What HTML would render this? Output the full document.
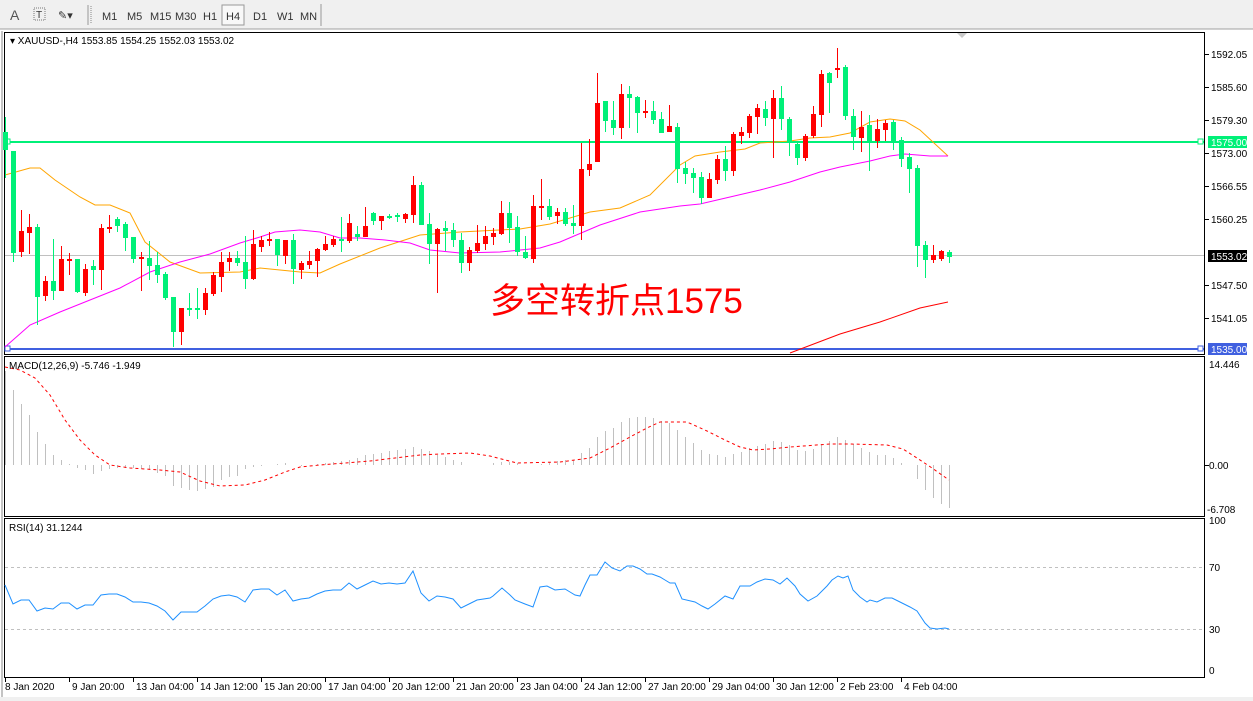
<!DOCTYPE html>
<html><head><meta charset="utf-8"><style>
html,body{margin:0;padding:0;background:#fff;width:1253px;height:701px;overflow:hidden}
svg{display:block;font-family:"Liberation Sans","DejaVu Sans",sans-serif}
</style></head><body>
<svg id="s" width="1253" height="701" xmlns="http://www.w3.org/2000/svg">
<rect x="0" y="0" width="1253" height="701" fill="#fff"/>
<rect x="0" y="0" width="1253" height="29" fill="#f0f0f0"/>
<line x1="0" y1="29" x2="1253" y2="29" stroke="#a0a0a0"/>
<rect x="0" y="697" width="1253" height="4" fill="#f0f0f0"/>
<g font-size="11" fill="#333">
<text x="10" y="20" font-size="14" fill="#555">A</text>
<rect x="34" y="8" width="11" height="12" fill="none" stroke="#777" stroke-dasharray="1,1"/><text x="36" y="18" font-size="10">T</text>
<text x="58" y="19" font-size="11">✎▾</text>
<line x1="88" y1="5" x2="88" y2="25" stroke="#999"/><line x1="91" y1="6" x2="91" y2="24" stroke="#888" stroke-dasharray="1,1"/>
<text x="102" y="20">M1</text><text x="127" y="20">M5</text><text x="150" y="20">M15</text><text x="175" y="20">M30</text><text x="203" y="20">H1</text>
<rect x="222" y="5" width="22" height="20" fill="#f8f8f8" stroke="#999"/><text x="226" y="20">H4</text>
<text x="253" y="20">D1</text><text x="277" y="20">W1</text><text x="300" y="20">MN</text>
<line x1="321" y1="4" x2="321" y2="26" stroke="#999"/>
</g>
<rect x="4.5" y="32.5" width="1200" height="322" fill="none" stroke="#000"/>
<rect x="4.5" y="356.5" width="1200" height="160" fill="none" stroke="#000"/>
<rect x="4.5" y="518.5" width="1200" height="159" fill="none" stroke="#000"/>
<line x1="2" y1="31" x2="2" y2="697" stroke="#888"/>
<polygon points="957,33 967,33 962,38" fill="#c8c8c8"/>
<g id="g"></g>
<text x="490" y="313" font-size="35" fill="#ff0000" font-family="'Liberation Sans','Noto Sans CJK SC',sans-serif">多空转折点1575</text>
<text x="10" y="44" font-size="10" fill="#000">▾ XAUUSD-,H4  1553.85 1554.25 1552.03 1553.02</text>
<text x="9" y="369" font-size="10" fill="#000">MACD(12,26,9) -5.746 -1.949</text>
<text x="9" y="531" font-size="10" fill="#000">RSI(14) 31.1244</text>
</svg>
<script>
var NS="http://www.w3.org/2000/svg",G=document.getElementById("g");
function el(t,a,txt){var e=document.createElementNS(NS,t);for(var k in a)e.setAttribute(k,a[k]);if(txt!=null)e.textContent=txt;G.appendChild(e);return e;}
function pl(pts,c,w,da){el("polyline",{points:pts.map(function(p){return p.join(",")}).join(" "),fill:"none",stroke:c,"stroke-width":w||1,"stroke-dasharray":da||"none"});}
el("line",{x1:5,y1:255.5,x2:1204,y2:255.5,stroke:"#c0c0c0"});
el("line",{x1:5,y1:142,x2:1204,y2:142,stroke:"#00f078","stroke-width":2});
el("line",{x1:5,y1:349,x2:1204,y2:349,stroke:"#4060e0","stroke-width":2});
el("rect",{x:5,y:139,width:5,height:5,fill:"#fff",stroke:"#00f078"});
el("rect",{x:1198,y:139,width:5,height:5,fill:"#fff",stroke:"#00f078"});
el("rect",{x:5,y:346,width:5,height:5,fill:"#fff",stroke:"#4060e0"});
el("rect",{x:1198,y:346,width:5,height:5,fill:"#fff",stroke:"#4060e0"});
pl([[5,175],[30,168],[40,168],[55,180],[80,197],[95,205],[110,205],[130,213],[145,242],[170,262],[200,273],[240,272],[260,268],[300,272],[320,273],[340,264],[380,248],[420,235],[460,232],[520,229],[550,224],[590,212],[620,208],[650,195],[680,165],[695,156],[720,152],[745,149],[760,143],[790,141],[810,138],[830,137],[850,133],[870,122],[890,119],[905,121],[920,130],[948,156]],"#ffa500",1);
pl([[5,347],[30,325],[60,312],[90,300],[120,288],[150,272],[180,262],[210,254],[240,243],[260,237],[275,232],[300,230],[320,232],[340,238],[360,238],[385,240],[410,243],[430,250],[460,253],[500,252],[540,248],[560,242],[600,225],[640,212],[680,206],[700,204],[730,197],[760,190],[790,182],[820,172],[840,167],[870,161],[890,156],[905,154],[930,156],[948,156]],"#ff00ff",1);
pl([[790,353],[840,334],[880,322],[920,308],[948,302]],"#ff0000",1);
var C="g 132 150 117 178|g 151 253 151 262|r 231 252 210 257|r 227 233 214 254|g 227 297 224 325|r 281 296 276 301|g 281 291 239 300|r 259 291 246 291|r 259 260 253 275|g 259 292 259 293|r 269 293 264 296|g 266 270 260 285|r 228 270 224 290|r 227 229 215 233|g 219 226 217 232|g 224 238 222 251|g 237 259 237 263|r 257 259 252 291|g 258 266 241 280|g 265 275 252 283|g 274 298 272 300|g 297 332 297 347|r 308 332 308 345|g 308 310 293 316|g 308 310 288 319|r 293 310 288 315|r 275 294 272 296|r 262 277 252 292|r 258 262 252 271|g 258 263 251 266|g 262 279 236 289|r 244 279 230 280|r 240 247 236 252|r 239 240 232 246|g 239 255 239 266|r 240 256 240 264|g 240 269 234 284|r 263 270 261 279|r 261 265 251 269|r 249 261 248 277|r 244 250 236 251|r 239 245 236 247|g 239 241 217 252|r 223 241 214 243|g 234 237 226 241|r 226 237 207 237|g 213 221 212 225|r 216 221 216 230|g 216 218 214 219|g 215 217 213 222|r 214 219 213 223|r 185 215 176 223|g 185 225 182 225|g 224 244 213 264|r 229 244 228 293|g 228 231 221 251|g 230 240 223 247|g 240 263 233 273|r 250 263 247 271|r 243 251 225 253|r 236 244 226 250|r 233 237 228 245|r 213 234 201 235|g 213 228 202 243|g 227 252 216 256|g 252 258 236 259|r 206 259 195 263|r 206 208 179 220|g 206 217 199 220|r 212 216 208 224|g 212 224 208 226|g 223 226 205 234|r 169 226 143 240|r 164 170 139 176|r 103 162 73 162|g 101 121 101 132|g 120 128 101 135|r 94 128 84 139|g 94 98 86 128|g 97 113 96 133|r 111 113 100 118|g 111 120 101 124|g 119 133 112 133|r 126 132 105 132|g 127 169 123 183|g 168 174 162 184|g 173 178 168 193|g 177 198 172 204|r 179 198 173 198|r 159 180 155 184|g 159 171 146 181|r 134 171 132 176|r 132 136 127 144|r 116 133 114 138|r 108 117 104 134|g 109 118 101 126|r 98 119 90 158|g 98 119 86 130|g 119 142 117 156|g 144 158 142 165|r 136 158 134 161|r 114 136 106 138|r 74 115 70 127|g 73 83 72 113|r 68 70 48 78|g 67 116 65 120|g 116 137 109 150|r 127 138 111 152|g 125 141 115 171|r 129 141 119 148|r 123 130 120 141|g 122 141 120 150|g 140 159 137 167|g 157 169 153 193|g 168 246 165 267|g 245 260 241 278|r 255 260 245 263|r 251 259 250 261|g 252 257 250 263".split("|");
C.forEach(function(s,i){var a=s.split(" "),col=a[0]=="g"?"#00f078":"#ff0000",x=5+8*i,bt=+a[1],bb=+a[2],wt=+a[3],wb=+a[4];
 el("rect",{x:x,y:wt,width:1,height:Math.max(1,wb-wt),fill:col});
 el("rect",{x:x-2,y:bt,width:5,height:Math.max(2,bb-bt),fill:col});});
var pt=[["1592.05",54],["1585.60",87],["1579.30",120],["1573.00",153],["1566.55",186],["1560.25",219],["1547.50",285],["1541.05",318]];
pt.forEach(function(p){el("line",{x1:1205,y1:p[1]+.5,x2:1209,y2:p[1]+.5,stroke:"#000"});el("text",{x:1211,y:p[1]+4,"font-size":10,fill:"#000"},p[0]);});
function lab(y,bg,t){el("rect",{x:1208,y:y-6,width:39,height:12,fill:bg});el("text",{x:1211,y:y+4,"font-size":10,fill:"#fff"},t);}
lab(142,"#00f078","1575.00");lab(256,"#000","1553.02");lab(349,"#4060e0","1535.00");
var mb={5:371,13:390,21:404,29:415,37:432,45:444,53:455,61:460,69:464,77:468,85:470,93:474,101:471,109:469,117:468,125:468,133:468,141:469,149:470,157:473,165:476,173:486,181:488,189:490,197:491,205:489,213:487,221:480,229:477,237:476,245:469,253:467,261:466,269:465,277:464,285:463,293:465,301:466,309:465,317:464,325:463,333:462,341:461,349:460,357:458,365:455,373:454,381:453,389:451,397:450,405:449,413:447,421:449,429:451,437:455,445:457,453:460,461:462,469:465,477:465,485:465,493:463,501:462,509:462,517:463,525:465,533:465,541:464,549:462,557:461,565:460,573:460,581:453,589:448,597:437,605:431,613:428,621:422,629:418,637:417,645:417,653:418,661:421,669:423,677:430,685:437,693:443,701:450,709:454,717:455,725:457,733:454,741:452,749:448,757:446,765:444,773:441,781:442,789:445,797:450,805:451,813:449,821:444,829:441,837:437,845:440,853:444,861:448,869:452,877:455,885:455,893:458,901:463,909:465,917:479,925:490,933:498,941:504,949:508};
for(var k in mb){var y=mb[k];el("line",{x1:+k+.5,y1:465,x2:+k+.5,y2:y,stroke:"#c0c0c0"});}
pl([[5,367],[20,370],[35,378],[50,395],[65,420],[80,440],[95,455],[110,465],[130,468],[160,470],[180,472],[200,481],[220,486],[245,485],[265,480],[285,472],[300,467],[320,465],[345,463],[370,461],[395,458],[420,455],[440,454],[470,453],[490,456],[517,463],[560,462],[590,458],[610,448],[630,437],[647,428],[660,422],[687,422],[707,431],[727,441],[740,447],[753,450],[770,449],[790,447],[830,444],[850,444],[887,445],[903,449],[917,458],[932,468],[949,480]],"#ff0000",1,"3,3");
el("line",{x1:1205,y1:465.5,x2:1209,y2:465.5,stroke:"#000"});
el("text",{x:1209,y:368,"font-size":10},"14.446");el("text",{x:1209,y:469,"font-size":10},"0.00");el("text",{x:1207,y:513,"font-size":10},"-6.708");
el("line",{x1:5,y1:567.5,x2:1204,y2:567.5,stroke:"#c0c0c0","stroke-dasharray":"3,3"});
el("line",{x1:5,y1:629.5,x2:1204,y2:629.5,stroke:"#c0c0c0","stroke-dasharray":"3,3"});
pl([[5,585],[13,604],[21,600],[29,600],[37,611],[45,608],[53,609],[61,603],[69,603],[77,609],[85,605],[93,605],[101,595],[109,594],[117,594],[125,597],[133,602],[141,602],[149,603],[157,606],[165,611],[173,620],[181,612],[189,612],[197,612],[205,606],[213,599],[221,596],[229,595],[237,597],[245,602],[253,590],[261,589],[269,589],[277,595],[285,590],[293,601],[301,599],[309,598],[317,594],[325,591],[333,590],[341,590],[349,583],[357,589],[365,585],[373,581],[381,584],[389,583],[397,584],[405,583],[413,571],[421,593],[429,601],[437,596],[445,597],[453,599],[461,608],[469,604],[477,600],[490,598],[493,596],[502,588],[510,595],[515,600],[525,604],[533,607],[540,587],[547,586],[555,590],[565,589],[570,592],[575,595],[580,596],[585,585],[590,575],[597,575],[605,562],[612,568],[620,571],[627,566],[633,566],[640,569],[647,574],[652,574],[660,577],[665,580],[670,583],[675,583],[682,599],[695,602],[702,606],[708,609],[715,604],[725,596],[733,599],[740,586],[750,586],[757,582],[765,579],[773,580],[780,584],[787,578],[795,586],[800,594],[808,601],[817,596],[822,591],[827,586],[832,580],[838,576],[843,578],[848,576],[853,590],[860,597],[867,602],[870,600],[877,602],[885,598],[892,598],[900,602],[910,607],[917,611],[925,623],[930,628],[937,629],[945,628],[949,629]],"#1e90ff",1);
[["100",524],["70",571],["30",633],["0",674]].forEach(function(p){el("text",{x:1209,y:p[1],"font-size":10},p[0]);});
var xl=["8 Jan 2020","9 Jan 20:00","13 Jan 04:00","14 Jan 12:00","15 Jan 20:00","17 Jan 04:00","20 Jan 12:00","21 Jan 20:00","23 Jan 04:00","24 Jan 12:00","27 Jan 20:00","29 Jan 04:00","30 Jan 12:00","2 Feb 23:00","4 Feb 04:00"];
xl.forEach(function(t,i){var x=5+64*i;el("line",{x1:x+.5,y1:678,x2:x+.5,y2:682,stroke:"#000"});el("text",{x:x+(i?3:0),y:690,"font-size":10},t);});
</script>
</body></html>
